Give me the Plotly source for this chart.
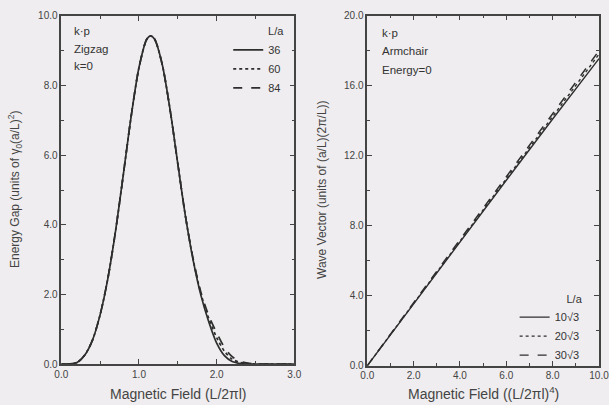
import plotly.graph_objects as go

# ---------------- data: left panel (Zigzag, k=0) ----------------
zz_field = [0.0, 0.1, 0.2, 0.3, 0.4, 0.5, 0.6, 0.7, 0.8, 0.9, 1.0, 1.1, 1.15, 1.2,
            1.3, 1.4, 1.5, 1.6, 1.7, 1.8, 1.9, 2.0, 2.1, 2.2, 2.3, 2.4, 2.5, 2.6, 3.0]
gap_36 = [0.0, 0.0, 0.04, 0.25, 0.68, 1.42, 2.47, 3.85, 5.47, 7.13, 8.52, 9.33, 9.43, 9.34,
          8.6, 7.31, 5.75, 4.22, 2.95, 1.95, 1.2, 0.6, 0.24, 0.07, 0.015, 0.0, 0.0, 0.0, 0.0]
gap_60 = [0.0, 0.0, 0.04, 0.25, 0.68, 1.42, 2.47, 3.85, 5.47, 7.13, 8.52, 9.33, 9.43, 9.34,
          8.6, 7.31, 5.75, 4.22, 2.97, 2.0, 1.3, 0.76, 0.37, 0.14, 0.045, 0.012, 0.0, 0.0, 0.0]
gap_84 = [0.0, 0.0, 0.04, 0.25, 0.68, 1.42, 2.47, 3.85, 5.47, 7.13, 8.52, 9.33, 9.43, 9.34,
          8.6, 7.31, 5.75, 4.22, 2.99, 2.04, 1.38, 0.9, 0.48, 0.21, 0.08, 0.025, 0.006, 0.0, 0.0]
zz_names = ["36", "60", "84"]

# ---------------- data: right panel (Armchair, Energy=0) ----------------
ac_field = [0.0, 2.0, 4.0, 6.0, 8.0, 10.0]
wv_10 = [0.0, 3.55, 7.1, 10.6, 14.1, 17.55]
wv_20 = [0.0, 3.57, 7.15, 10.7, 14.25, 17.8]
wv_30 = [0.0, 3.6, 7.2, 10.8, 14.4, 18.0]
ac_names = ["10\u221A3", "20\u221A3", "30\u221A3"]

dashes = ["solid", "dot", "dash"]
ink = "#2e2e2e"
bg = "#efedef"
font_family = "Liberation Sans, Arial, sans-serif"

fig = go.Figure()
for ys, nm, d in zip([gap_36, gap_60, gap_84], zz_names, dashes):
    fig.add_trace(go.Scatter(x=zz_field, y=ys, name=nm, mode="lines",
                             line=dict(color=ink, width=1.7, dash=d, shape="spline", smoothing=0.8),
                             xaxis="x", yaxis="y", legend="legend"))
for ys, nm, d in zip([wv_10, wv_20, wv_30], ac_names, dashes):
    fig.add_trace(go.Scatter(x=ac_field, y=ys, name=nm, mode="lines",
                             line=dict(color=ink, width=1.4, dash=d),
                             xaxis="x2", yaxis="y2", legend="legend2"))

axis_common = dict(showline=True, linecolor="#444", linewidth=1.5, mirror="ticks",
                   ticks="inside", ticklen=5, tickwidth=1, tickcolor="#444",
                   showgrid=False, zeroline=False, tickformat=".1f",
                   tickfont=dict(family=font_family, size=10, color="#444"),
                   ticklabeloverflow="allow", automargin=False)

leg_font = dict(size=11, family=font_family, color="#333")

fig.update_layout(
    width=609, height=405,
    margin=dict(l=0, r=0, t=0, b=0),
    paper_bgcolor=bg, plot_bgcolor=bg,
    font=dict(family=font_family, color="#333"),
    xaxis=dict(domain=[0.1007, 0.4833], range=[0, 3], dtick=1.0,
               minor=dict(dtick=0.5, ticklen=3, ticks="inside", tickcolor="#444"),
               anchor="y", **axis_common),
    yaxis=dict(domain=[0.1012, 0.9605], range=[0, 10], dtick=2.0,
               minor=dict(dtick=1.0, ticklen=3, ticks="inside", tickcolor="#444"),
               anchor="x", **axis_common),
    xaxis2=dict(domain=[0.6031, 0.9836], range=[0, 10], dtick=2.0,
                minor=dict(dtick=1.0, ticklen=3, ticks="inside", tickcolor="#444"),
                anchor="y2", **axis_common),
    yaxis2=dict(domain=[0.097, 0.9612], range=[0, 20], dtick=4.0,
                minor=dict(dtick=2.0, ticklen=3, ticks="inside", tickcolor="#444"),
                anchor="x2", **axis_common),
    legend=dict(x=0.470, y=0.948, xanchor="right", yanchor="top",
                bgcolor="rgba(0,0,0,0)", font=leg_font,
                title=dict(text="L/a", side="top right", font=leg_font),
                itemwidth=30, tracegroupgap=0),
    legend2=dict(x=0.960, y=0.288, xanchor="right", yanchor="top",
                 bgcolor="rgba(0,0,0,0)", font=leg_font,
                 title=dict(text="L/a", side="top right", font=leg_font),
                 itemwidth=30, tracegroupgap=0),
)

ann = []
# in-plot labels
for i, t in enumerate(["k\u00B7p", "Zigzag", "k=0"]):
    ann.append(dict(text=t, xref="paper", yref="paper", x=72 / 609, y=1 - (31 + 17.5 * i) / 405,
                    xanchor="left", yanchor="middle", showarrow=False,
                    font=dict(size=11.5, family=font_family, color="#333")))
for i, t in enumerate(["k\u00B7p", "Armchair", "Energy=0"]):
    ann.append(dict(text=t, xref="paper", yref="paper", x=380 / 609, y=1 - (33 + 18.5 * i) / 405,
                    xanchor="left", yanchor="middle", showarrow=False,
                    font=dict(size=11.5, family=font_family, color="#333")))
# axis titles
ann.append(dict(text="Magnetic Field (L/2\u03C0l)", xref="paper", yref="paper",
                x=179 / 609, y=1 - 394 / 405, xanchor="center", yanchor="middle",
                showarrow=False, font=dict(size=14, family=font_family, color="#444")))
ann.append(dict(text="Magnetic Field ((L/2\u03C0l)<sup>4</sup>)", xref="paper", yref="paper",
                x=483 / 609, y=1 - 393 / 405, xanchor="center", yanchor="middle",
                showarrow=False, font=dict(size=14, family=font_family, color="#444")))
ann.append(dict(text="Energy Gap (units of \u03B3<sub>0</sub>(a/L)<sup>2</sup>)", xref="paper", yref="paper",
                x=15 / 609, y=1 - 190 / 405, xanchor="center", yanchor="middle", textangle=-90,
                showarrow=False, font=dict(size=12, family=font_family, color="#444")))
ann.append(dict(text="Wave Vector (units of (a/L)(2\u03C0/L))", xref="paper", yref="paper",
                x=322 / 609, y=1 - 190 / 405, xanchor="center", yanchor="middle", textangle=-90,
                showarrow=False, font=dict(size=12, family=font_family, color="#444")))
fig.update_layout(annotations=ann)

fig.write_html("out.html")
